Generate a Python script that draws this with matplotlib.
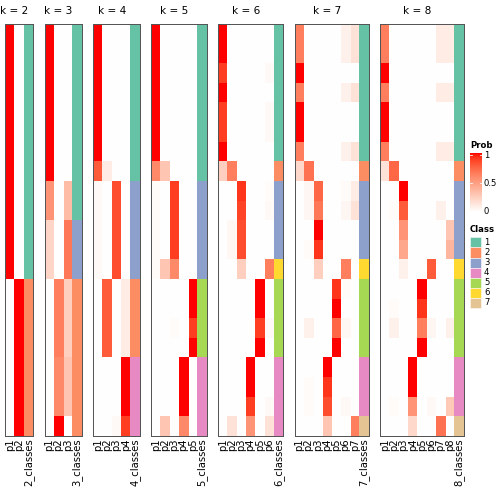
import numpy as np
import matplotlib
matplotlib.use('Agg')
import matplotlib.pyplot as plt
from matplotlib.colors import ListedColormap

plt.rcParams['font.family'] = ['DejaVu Sans']

# ---------------- data: membership probabilities per k (21 samples) ----------------
ks = [2, 3, 4, 5, 6, 7, 8]

probs_k2 = [[1, 0]] * 13 + [[0, 1]] * 8
class_k2 = [1] * 13 + [2] * 8

probs_k3 = ([[1, 0, 0]] * 8 + [[0.55, 0, 0.35]] * 2 + [[0.22, 0, 0.68]] * 3 +
            [[0, 0.65, 0.25]] * 4 + [[0, 0.6, 0.3]] * 3 + [[0, 1, 0]])
class_k3 = [1] * 10 + [3] * 3 + [2] * 8

probs_k4 = ([[1, 0, 0, 0]] * 7 + [[0.8, 0.1, 0, 0]] + [[0.03, 0, 0.85, 0]] * 5 +
            [[0, 0.8, 0, 0.1]] * 4 + [[0, 0, 0, 1]] * 3 + [[0, 0, 0.03, 0.9]])
class_k4 = [1] * 8 + [3] * 5 + [2] * 4 + [4] * 4

probs_k5 = ([[1, 0, 0, 0, 0]] * 7 + [[0.6, 0.3, 0, 0, 0]] + [[0.02, 0, 0.9, 0, 0]] * 4 +
            [[0.02, 0.3, 0.6, 0, 0]] + [[0, 0, 0, 0, 1]] * 2 + [[0, 0, 0.02, 0, 0.9]] +
            [[0, 0, 0, 0, 1]] + [[0, 0, 0, 1, 0]] * 3 + [[0, 0.3, 0, 0.6, 0]])
class_k5 = [1] * 8 + [3] * 5 + [5] * 4 + [4] * 4

probs_k6 = [[1, 0, 0, 0, 0, 0], [1, 0, 0, 0, 0, 0], [0.9, 0, 0, 0, 0, 0.03],
            [1, 0, 0, 0, 0, 0], [0.9, 0, 0, 0, 0, 0.03], [0.9, 0, 0, 0, 0, 0.03],
            [1, 0, 0, 0, 0, 0], [0.25, 0.65, 0, 0, 0, 0], [0, 0, 0.92, 0, 0, 0.02],
            [0, 0, 0.88, 0, 0, 0.03], [0, 0.04, 0.85, 0, 0, 0], [0, 0.04, 0.85, 0, 0, 0],
            [0, 0, 0.25, 0, 0, 0.65], [0, 0, 0, 0, 1, 0], [0, 0, 0, 0, 1, 0],
            [0, 0, 0, 0, 0.9, 0.03], [0, 0, 0, 0, 1, 0], [0, 0, 0, 1, 0, 0],
            [0, 0, 0, 1, 0, 0], [0, 0, 0, 0.9, 0, 0.03], [0, 0.15, 0, 0.55, 0, 0.15]]
class_k6 = [1] * 7 + [2] + [3] * 4 + [6] + [5] * 4 + [4] * 4

probs_k7 = [[0.65, 0, 0, 0, 0, 0.08, 0.15], [0.65, 0, 0, 0, 0, 0.08, 0.15],
            [1, 0, 0, 0, 0, 0, 0], [0.65, 0, 0, 0, 0, 0.08, 0.15],
            [1, 0, 0, 0, 0, 0, 0], [1, 0, 0, 0, 0, 0, 0],
            [0.65, 0, 0, 0, 0, 0.08, 0.15], [0.2, 0.7, 0, 0, 0, 0, 0],
            [0, 0.05, 0.75, 0, 0, 0.02, 0.1], [0, 0.05, 0.68, 0, 0, 0.05, 0.15],
            [0, 0, 1, 0, 0, 0, 0], [0, 0.02, 0.92, 0, 0, 0, 0],
            [0, 0, 0.25, 0, 0, 0.65, 0], [0, 0, 0, 0, 0.92, 0.02, 0],
            [0, 0, 0, 0, 1, 0, 0], [0, 0.08, 0, 0, 0.75, 0.04, 0],
            [0, 0, 0, 0, 1, 0, 0], [0, 0, 0, 1, 0, 0, 0],
            [0, 0.02, 0, 0.92, 0, 0, 0], [0, 0.02, 0, 0.85, 0, 0.03, 0],
            [0, 0, 0, 0.3, 0, 0, 0.65]]
class_k7 = [1] * 7 + [2] + [3] * 4 + [6] + [5] * 4 + [4] * 3 + [7]

probs_k8 = [[0.65, 0, 0, 0, 0, 0, 0.1, 0.1], [0.65, 0, 0, 0, 0, 0, 0.1, 0.1],
            [1, 0, 0, 0, 0, 0, 0, 0], [0.65, 0, 0, 0, 0, 0, 0.1, 0.1],
            [1, 0, 0, 0, 0, 0, 0, 0], [1, 0, 0, 0, 0, 0, 0, 0],
            [0.65, 0, 0, 0, 0, 0, 0.1, 0.1], [0.15, 0.75, 0, 0, 0, 0, 0, 0],
            [0, 0, 1, 0, 0, 0, 0, 0], [0, 0.02, 0.8, 0, 0, 0, 0.08, 0],
            [0, 0, 0.55, 0, 0, 0, 0, 0.3], [0, 0, 0.45, 0, 0, 0, 0, 0.38],
            [0, 0, 0.08, 0, 0, 0.8, 0, 0], [0, 0, 0, 0, 1, 0, 0, 0],
            [0, 0.02, 0, 0, 0.92, 0, 0, 0], [0, 0.08, 0, 0, 0.65, 0.05, 0, 0.08],
            [0, 0, 0, 0, 1, 0, 0, 0], [0, 0, 0, 1, 0, 0, 0, 0],
            [0, 0, 0, 1, 0, 0, 0, 0], [0, 0.02, 0, 0.55, 0, 0.03, 0, 0.28],
            [0, 0, 0, 0.2, 0, 0, 0.7, 0]]
class_k8 = [1] * 7 + [2] + [3] * 4 + [6] + [5] * 4 + [4] * 3 + [7]

all_probs = [probs_k2, probs_k3, probs_k4, probs_k5, probs_k6, probs_k7, probs_k8]
all_class = [class_k2, class_k3, class_k4, class_k5, class_k6, class_k7, class_k8]

class_labels = [1, 2, 3, 4, 5, 6, 7]
class_colors = ['#66C2A5', '#FC8D62', '#8DA0CB', '#E78AC3', '#A6D854', '#FFD92F', '#E5C494']


# white -> red ramp interpolated in LAB space
def lab_to_rgb(L, a, b):
    fy = (L + 16) / 116
    fx = fy + a / 500
    fz = fy - b / 200
    def finv(t):
        return np.where(t > 6 / 29, t ** 3, 3 * (6 / 29) ** 2 * (t - 4 / 29))
    xyz = np.stack([0.95047 * finv(fx), finv(fy), 1.08883 * finv(fz)], axis=-1)
    M = np.array([[3.2406, -1.5372, -0.4986], [-0.9689, 1.8758, 0.0415], [0.0557, -0.2040, 1.0570]])
    lin = np.clip(xyz @ M.T, 0, 1)
    return np.clip(np.where(lin <= 0.0031308, 12.92 * lin, 1.055 * lin ** (1 / 2.4) - 0.055), 0, 1)

t = np.linspace(0, 1, 256)
ramp = lab_to_rgb(100 + (53.24 - 100) * t, 80.09 * t, 67.20 * t)
prob_cmap = ListedColormap(ramp)
class_cmap = ListedColormap(class_colors)

W = 504
fig = plt.figure(figsize=(7, 7), dpi=72)

def fx(px):
    return px / W

def fy(py):
    return 1 - py / W

# overlay in pixel coords for legend
lg = fig.add_axes([0, 0, 1, 1])
lg.set_xlim(0, W)
lg.set_ylim(W, 0)
lg.axis('off')

cw = 9.27
gap = 11.5
top, bottom = 24, 435.6
x0 = 5.3
for k, pr, cl in zip(ks, all_probs, all_class):
    pr = np.array(pr, dtype=float)
    cl = np.array(cl)
    n = len(cl)
    w = (k + 1) * cw
    ax = fig.add_axes([fx(x0), fy(bottom), w / W, (bottom - top) / W])
    ax.imshow(pr, cmap=prob_cmap, vmin=0, vmax=1, aspect='auto',
              interpolation='nearest', extent=(0, k, n, 0))
    ax.imshow(cl[:, None] - 1, cmap=class_cmap, vmin=-0.5, vmax=6.5, aspect='auto',
              interpolation='nearest', extent=(k, k + 1, n, 0))
    ax.set_xlim(0, k + 1)
    ax.set_ylim(n, 0)
    ax.set_yticks([])
    ax.set_xticks(np.arange(k + 1) + 0.5)
    ax.set_xticklabels(['p%d' % (i + 1) for i in range(k)] + ['%d_classes' % k],
                       rotation=90, fontsize=10)
    ax.tick_params(axis='x', length=0, pad=3)
    for s in ax.spines.values():
        s.set_color('#555555')
        s.set_linewidth(1)
    fig.text(fx(x0 + k * cw / 2), fy(11), 'k = %d' % k, ha='center', va='center', fontsize=10.5)
    x0 += w + gap

# Prob legend
lx = 470
lg.text(lx, 146, 'Prob', fontsize=8.5, fontweight='bold', ha='left', va='center')
grad = np.linspace(1, 0, 100)[:, None]
lg.imshow(grad, cmap=prob_cmap, vmin=0, vmax=1, aspect='auto', extent=(lx, lx + 12, 212, 153))
for v, yy in [(1, 155), (0.5, 183)]:
    lg.plot([lx, lx + 2], [yy, yy], color='white', lw=0.8)
    lg.plot([lx + 10, lx + 12], [yy, yy], color='white', lw=0.8)
for lab, yy in [('1', 155), ('0.5', 183), ('0', 211)]:
    lg.text(lx + 14, yy, lab, fontsize=8.5, ha='left', va='center')
lg.set_xlim(0, W)
lg.set_ylim(W, 0)

# Class legend
lg.text(lx, 230, 'Class', fontsize=8.5, fontweight='bold', ha='left', va='center')
bh = 10.1
for i, (lab, col) in enumerate(zip(class_labels, class_colors)):
    yb = 237.3 + i * bh
    lg.add_patch(plt.Rectangle((lx, yb), 11, bh, facecolor=col, edgecolor='white', lw=0.5))
    lg.text(lx + 14, yb + bh / 2, str(lab), fontsize=8.5, ha='left', va='center')

fig.savefig('out.png', dpi=72)
